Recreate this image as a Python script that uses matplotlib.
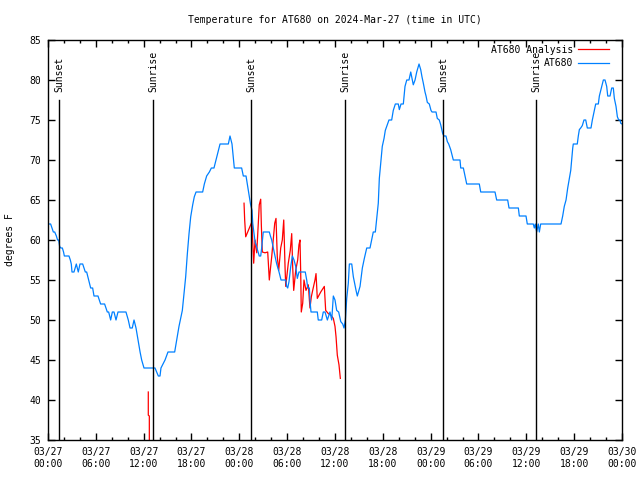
import pandas as pd
import matplotlib
matplotlib.use("Agg")
import matplotlib.pyplot as plt
import matplotlib.dates as mdates

plt.rcParams["font.family"] = ["DejaVu Sans Mono"]
plt.rcParams["font.size"] = 7

inicio = pd.Timestamp("2024-03-27 00:00")

# AT680 observado (horas desde 03/27 00:00, graus F)
at680_horas = [
    0.00, 0.33, 0.50, 0.67, 0.84, 1.05, 1.20, 1.34, 1.46, 1.60, 1.80, 1.95, 2.05, 2.63,
    2.80, 2.92, 3.01, 3.26, 3.55, 3.80, 4.01, 4.35, 4.68, 4.85, 5.10, 5.35, 5.60, 5.77,
    6.27, 6.60, 7.10, 7.44, 7.61, 7.86, 8.07, 8.28, 8.53, 8.78, 9.78, 10.07, 10.29, 10.57,
    10.79, 11.04, 11.30, 11.55, 11.75, 12.04, 13.42, 13.84, 14.05, 14.17, 14.68, 15.05,
    15.89, 16.14, 16.43, 16.64, 16.85, 17.10, 17.27, 17.48, 17.69, 17.90, 18.15, 18.35,
    18.57, 19.40, 19.61, 19.90, 20.24, 20.49, 20.82, 21.07, 21.33, 21.58, 22.62, 22.83,
    23.08, 23.37, 24.29, 24.50, 24.84, 25.05, 25.25, 25.40, 25.59, 25.68, 25.97, 26.50,
    26.68, 26.80, 27.00, 27.76, 27.90, 28.06, 28.26, 28.47, 28.69, 28.98, 29.23, 29.82,
    29.94, 30.07, 30.23, 30.45, 30.65, 30.86, 31.07, 31.27, 31.48, 32.27, 32.45, 32.58,
    32.78, 32.90, 32.99, 33.78, 33.90, 34.33, 34.53, 34.75, 35.04, 35.20, 35.37, 35.59,
    35.79, 36.00, 36.21, 36.46, 36.72, 36.97, 37.13, 37.30, 37.47, 37.67, 37.80, 38.10,
    38.30, 38.64, 38.80, 39.14, 39.43, 39.68, 39.98, 40.39, 40.60, 40.80, 41.06, 41.23,
    41.43, 41.56, 41.73, 41.93, 42.15, 42.31, 42.56, 42.77, 43.11, 43.31, 43.57, 43.94,
    44.07, 44.28, 44.57, 44.78, 45.00, 45.28, 45.50, 45.62, 45.82, 46.04, 46.25, 46.54,
    46.75, 46.91, 47.08, 47.29, 47.42, 47.58, 47.83, 48.04, 48.17, 48.67, 48.83, 49.08,
    49.26, 49.51, 49.67, 49.92, 50.09, 50.26, 50.51, 50.68, 50.84, 51.68, 51.77, 52.10,
    52.31, 52.52, 54.10, 54.28, 56.07, 56.28, 57.66, 57.83, 59.00, 59.12, 59.96, 60.12,
    60.87, 61.00, 61.12, 61.30, 61.50, 61.63, 61.80, 64.35, 64.56, 64.76, 64.98, 65.19,
    65.39, 65.57, 65.69, 65.82, 65.89, 66.39, 66.52, 66.65, 66.82, 67.02, 67.23, 67.45,
    67.65, 68.11, 68.28, 68.49, 68.70, 69.03, 69.16, 69.33, 69.49, 69.66, 69.87, 70.08,
    70.21, 70.50, 70.71, 70.91, 71.04, 71.25, 71.42, 71.59, 71.75, 71.84, 72.00,
]
at680_temp = [
    62, 62, 61.5, 61, 61, 60.5, 60, 60, 59.2, 59, 59, 58.5, 58, 58,
    57.5, 57, 56, 56, 57, 56, 57, 57, 56, 56, 55, 54, 54, 53,
    53, 52, 52, 51, 51, 50, 51, 51, 50, 51, 51, 50, 49, 49,
    50, 49, 47.5, 46, 45, 44, 44, 43, 43, 44, 45, 46,
    46, 47.5, 49.2, 50.2, 51.2, 53.7, 55.4, 58.3, 60.8, 62.9, 64.4, 65.4,
    66, 66, 67, 68, 68.5, 69, 69, 70, 71, 72, 72, 73,
    72, 69, 69, 68, 68, 66.7, 65.5, 64.5, 63.7, 62.1, 59.8, 58,
    58, 59, 61, 61, 60.5, 60, 59, 58, 57, 56, 55, 55,
    54.2, 54, 54.8, 56.7, 58, 57.5, 56.7, 55.2, 56, 56, 55, 54,
    54, 52, 51, 51, 50, 50, 51, 51, 50, 50.5, 51, 50,
    53, 52.5, 51.2, 51, 49.8, 49.5, 49, 50, 52.7, 54.6, 57, 57,
    55.4, 53.7, 53, 54.2, 56.5, 57.7, 59, 59, 60, 61, 61, 62.7,
    64.6, 67.7, 69.6, 71.7, 72.7, 73.7, 74.4, 75, 75, 76.2, 77, 77,
    76.3, 77, 77, 79.2, 80, 80, 81, 80.4, 79.4, 80, 81, 82,
    81.3, 80.4, 79.6, 78.5, 78, 77.2, 77, 76.2, 76, 76, 75.2, 75,
    74.4, 73.3, 73, 73, 72.3, 72, 71.3, 70.6, 70, 70, 69, 69,
    68, 67, 67, 66, 66, 65, 65, 64, 64, 63, 63, 62,
    62, 61.5, 62, 61, 62, 61, 62, 62, 63, 64.2, 65, 66.5,
    67.7, 68.7, 70, 71.5, 72, 72, 73, 73.8, 74, 74.3, 75, 75,
    74, 74, 75, 76, 77, 77, 78, 78.7, 79.4, 80, 80, 79.2,
    78, 78, 79, 79, 77.7, 76.7, 75.4, 75, 75, 74.6, 74.5,
]

# AT680 Analysis (dois trechos)
analise1_horas = [12.58, 12.58, 12.71, 12.71]
analise1_temp = [41, 38.1, 38, 34.5]
analise2_horas = [
    24.59, 24.67, 24.80, 25.34, 25.59, 25.68, 25.80, 25.97, 26.18, 26.38, 26.50, 26.68,
    26.76, 26.88, 27.22, 27.56, 27.76, 27.88, 28.06, 28.44, 28.60, 28.76, 28.94, 29.19,
    29.39, 29.57, 29.73, 29.82, 30.14, 30.39, 30.57, 30.69, 30.82, 31.07, 31.32, 31.48,
    31.61, 31.70, 31.77, 31.95, 32.11, 32.36, 32.65, 32.86, 33.03, 33.20, 33.49, 33.62,
    33.78, 34.21, 34.66, 34.83, 35.16, 35.50, 35.79, 36.00, 36.13, 36.29, 36.50, 36.67,
]
analise2_temp = [
    64.6, 62.5, 60.4, 61.7, 62.3, 59.8, 57.1, 60, 58.4, 62.1, 64.4, 65.1,
    61.9, 58.5, 58.4, 58.5, 55, 56.2, 57.9, 62.1, 62.7, 57.9, 56.2, 59,
    60, 62.5, 56.7, 54.2, 57.1, 58.7, 60.8, 56.7, 53.7, 56.2, 57.5, 59.4,
    60, 55.8, 51, 52.1, 55, 53.7, 54.4, 51.5, 52.9, 53.7, 55, 55.8,
    52.7, 53.5, 54.2, 51.2, 50.8, 50.6, 50.2, 49.2, 47.9, 45.6, 44.4, 42.7,
]

# nascer / por do sol
sol_horas = [1.42, 13.21, 25.5, 37.3, 49.6, 61.25]
sol_nomes = ["Sunset", "Sunrise", "Sunset", "Sunrise", "Sunset", "Sunrise"]


def para_data(horas):
    return inicio + pd.to_timedelta(horas, unit="h")


fig = plt.figure(figsize=(6.4, 4.8), dpi=100)
ax = fig.add_axes([48 / 640, 40 / 480, 574 / 640, 400 / 480])

ax.plot(para_data(analise1_horas), analise1_temp, color="#ff0000", lw=0.9, label="AT680 Analysis")
ax.plot(para_data(analise2_horas), analise2_temp, color="#ff0000", lw=0.9)
ax.plot(para_data(at680_horas), at680_temp, color="#0080ff", lw=0.9, label="AT680")

for h, nome in zip(sol_horas, sol_nomes):
    t = para_data([h])[0]
    ax.plot([t, t], [35, 77.5], color="black", lw=1)
    ax.text(t, 78.5, nome, rotation=90, ha="center", va="bottom")

ax.set_xlim(inicio, inicio + pd.Timedelta(hours=72))
ax.set_ylim(35, 85)
ax.set_yticks(range(35, 86, 5))

ax.xaxis.set_major_locator(mdates.HourLocator(byhour=range(0, 24, 6)))
ax.xaxis.set_minor_locator(mdates.HourLocator(byhour=range(0, 24, 2)))
ax.xaxis.set_major_formatter(mdates.DateFormatter("%m/%d\n%H:%M"))

ax.tick_params(which="both", direction="in", top=True, right=True, width=1)
ax.tick_params(which="major", length=5)
ax.tick_params(which="minor", length=2.5)
ax.tick_params(axis="y", pad=5)
ax.tick_params(axis="x", pad=5)
for s in ax.spines.values():
    s.set_linewidth(1)

ax.set_title("Temperature for AT680 on 2024-Mar-27 (time in UTC)", pad=12, fontsize=7)
ax.set_ylabel("degrees F", labelpad=10)

ax.legend(loc="upper right", bbox_to_anchor=(0.977, 0.988), frameon=False, markerfirst=False,
          handlelength=3.2, handletextpad=0.5, labelspacing=0.35, borderaxespad=0, borderpad=0)

fig.savefig("out.png", dpi=100)
